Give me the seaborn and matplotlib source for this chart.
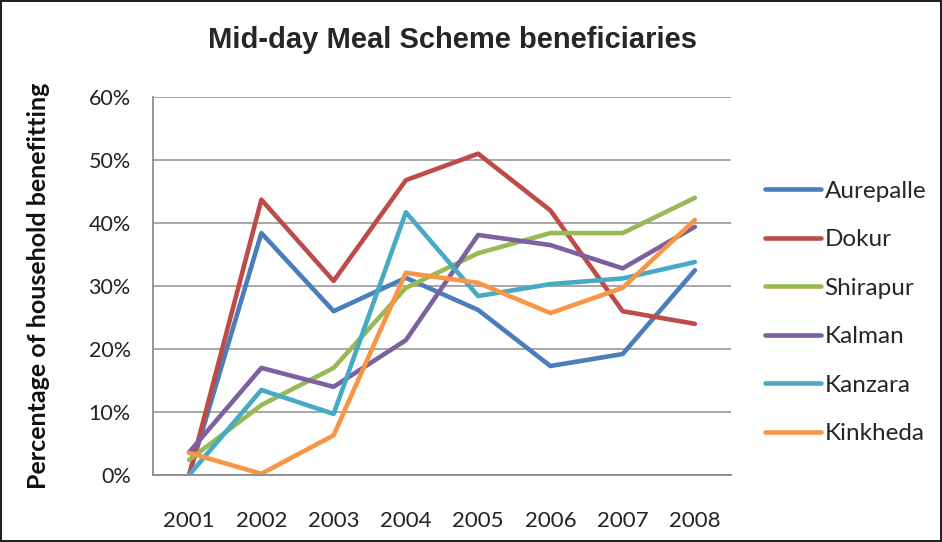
import matplotlib
matplotlib.use("Agg")
import matplotlib.pyplot as plt
from matplotlib.ticker import FixedLocator
import seaborn as sns
import pandas as pd

years = ["2001", "2002", "2003", "2004", "2005", "2006", "2007", "2008"]
villages = ["Aurepalle", "Dokur", "Shirapur", "Kalman", "Kanzara", "Kinkheda"]

aurepalle = [0.0, 38.4, 26.0, 31.3, 26.2, 17.3, 19.2, 32.5]
dokur = [0.0, 43.7, 30.8, 46.8, 51.0, 42.0, 26.0, 24.0]
shirapur = [2.4, 11.1, 17.0, 29.7, 35.2, 38.4, 38.4, 44.0]
kalman = [3.6, 17.0, 14.0, 21.4, 38.1, 36.5, 32.8, 39.4]
kanzara = [0.0, 13.5, 9.7, 41.7, 28.4, 30.3, 31.2, 33.8]
kinkheda = [3.5, 0.2, 6.3, 32.1, 30.5, 25.7, 29.7, 40.5]

colors = ["#4A7EBB", "#BE4B48", "#98B954", "#7D60A0", "#46AAC5", "#F79646"]

series = [aurepalle, dokur, shirapur, kalman, kanzara, kinkheda]
rows = []
for name, vals in zip(villages, series):
    for i, v in enumerate(vals):
        rows.append({"idx": i, "village": name, "pct": v})
df = pd.DataFrame(rows)

sns.set_theme(style="white")
plt.rcParams["font.family"] = ["Lato", "DejaVu Sans"]

fig = plt.figure(figsize=(9.42, 5.42), dpi=100, edgecolor="#222222", linewidth=1.5)
ax = fig.add_axes([153 / 942, 1 - 475 / 542, (731 - 153) / 942, (475 - 97) / 542])

sns.lineplot(data=df, x="idx", y="pct", hue="village", hue_order=villages,
             palette=colors, linewidth=3.3, ax=ax, legend=True)

ax.set_xlim(-0.5, 7.5)
ax.set_ylim(0, 60)
ax.set_yticks(range(0, 61, 10))
ax.set_yticklabels([f"{v}%" for v in range(0, 61, 10)], fontsize=15.5, color="#222222")
ax.set_xticks(range(len(years)))
ax.set_xticklabels(years, fontsize=16, color="#222222")
ax.xaxis.set_minor_locator(FixedLocator([i + 0.5 for i in range(-1, 8)]))
ax.tick_params(axis="x", which="major", length=0, pad=26)
ax.tick_params(axis="x", which="minor", length=7, width=1.2, color="#8C8C8C", direction="out")
ax.tick_params(axis="y", which="major", length=12, width=1.2, color="#8C8C8C",
               direction="inout", pad=10)
ax.yaxis.grid(True, color="#A0A0A0", linewidth=1.3)
ax.set_axisbelow(True)
for s in ["top", "right"]:
    ax.spines[s].set_visible(False)
for s in ["left", "bottom"]:
    ax.spines[s].set_color("#8C8C8C")
    ax.spines[s].set_linewidth(1.3)

ax.set_xlabel("")
ax.set_ylabel("Percentage of household benefitting", fontsize=18, fontweight="bold",
              color="#111111")
ax.yaxis.set_label_coords(-(153 - 50) / 578, 0.5)

fig.text(452 / 942, 1 - 40 / 542, "Mid-day Meal Scheme beneficiaries", ha="center", va="center",
         fontsize=21, fontweight="bold", family=["Liberation Sans", "DejaVu Sans"])

handles, labels = ax.get_legend_handles_labels()
ax.legend(handles, labels, loc="center left", bbox_to_anchor=(1.0, 0.43), frameon=False,
          fontsize=17.5, handlelength=2.3, handletextpad=0.15, labelspacing=1.13,
          borderaxespad=1.0)

fig.savefig("out.png", dpi=100)
